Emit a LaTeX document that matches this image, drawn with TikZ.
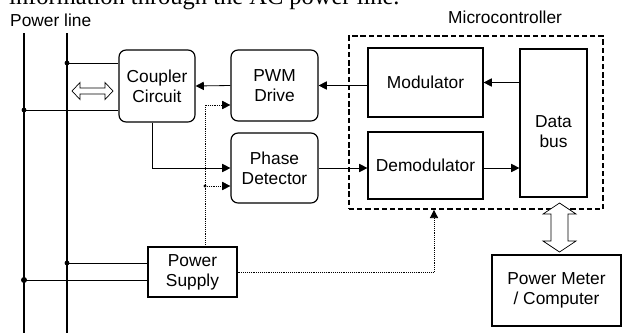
\documentclass[tikz, border=0pt]{standalone}
\usepackage{fontspec}
\setmainfont{Liberation Sans}
\newfontfamily\captionserif{Liberation Serif}
\usetikzlibrary{arrows.meta}

\newcommand{\boxfont}{\fontsize{14.8pt}{17pt}\selectfont}

\tikzset{
    blk/.style = {draw, line width = 1pt, align = center, inner sep = 0pt, font = \boxfont},
    rblk/.style = {blk, rounded corners = 6pt},
    wire/.style = {line width = 0.7pt},
    sig/.style = {wire, -{Triangle[length = 7pt, width = 7pt]}},
    dsig/.style = {line width = 0.6pt, densely dotted, -{Triangle[length = 7pt, width = 7pt]}},
    mains/.style = {line width = 1.6pt},
    hollow/.style = {draw, fill = white, line width = 0.6pt}
}

\begin{document}
\begin{tikzpicture}[x = 0.03cm, y = -0.03cm]
    \useasboundingbox (0, 0) rectangle (622, 333);

    \begin{scope}
        \clip (0, 0) rectangle (622, 333);
        \node[anchor = base west, inner sep = 0pt, font = \captionserif\fontsize{20.9pt}{24pt}\selectfont] (cut) at (9, 4) {information through the AC power line.};
    \end{scope}

    \node[anchor = base west, inner sep = 0pt, font = \boxfont] (pl) at (10, 26) {Power line};
    \node[anchor = base west, inner sep = 0pt, font = \boxfont] (mcutitle) at (448, 23) {Microcontroller};

    \node[draw, dash pattern = on 4.5pt off 2.5pt, line width = 1.5pt, minimum width = 7.62cm, minimum height = 5.19cm] (mcu) at (476, 122.5) {};

    \node[rblk, minimum width = 2.28cm, minimum height = 2.16cm] (coupler) at (157, 86) {Coupler\\Circuit};
    \node[rblk, minimum width = 2.61cm, minimum height = 2.13cm] (pwm) at (274.5, 85.5) {PWM\\Drive};
    \node[rblk, minimum width = 2.61cm, minimum height = 2.10cm] (phase) at (274.5, 168) {Phase\\Detector};
    \node[blk, minimum width = 2.67cm, minimum height = 1.50cm] (ps) at (192.5, 272) {Power\\Supply};
    \node[blk, minimum width = 3.45cm, minimum height = 2.07cm] (mod) at (425.5, 82.5) {Modulator};
    \node[blk, minimum width = 3.45cm, minimum height = 2.01cm] (demod) at (425.5, 165.5) {Demodulator};
    \node[blk, minimum width = 2.01cm, minimum height = 4.44cm, label = {[align = center, font = \boxfont, yshift = -0.27cm]center:Data\\bus}] (bus) at (553.5, 123) {};
    \node[blk, minimum width = 3.87cm, minimum height = 2.13cm] (meter) at (556.5, 290.5) {Power Meter\\/ Computer};

    \coordinate (lTop) at (24, 33);
    \coordinate (lBot) at (24, 333);
    \coordinate (rTop) at (67, 33);
    \coordinate (rBot) at (67, 333);
    \draw[mains] (lTop) -- (lBot);
    \draw[mains] (rTop) -- (rBot);

    \coordinate (rA) at (67, 63);
    \coordinate (lA) at (24, 110);
    \coordinate (rB) at (67, 263);
    \coordinate (lB) at (24, 280);
    \draw[wire] (rA) -- (rA -| coupler.west);
    \draw[wire] (lA) -- (lA -| coupler.west);
    \draw[wire] (rB) -- (rB -| ps.west);
    \draw[wire] (lB) -- (lB -| ps.west);
    \fill (rA) circle (2.4);
    \fill (lA) circle (2.4);
    \fill (rB) circle (2.4);
    \fill (lB) circle (3);

    \draw[hollow] (72, 91) -- (80, 82.5) -- (80, 88) -- (105, 88) -- (105, 82.5) -- (113, 91) -- (105, 99.5) -- (105, 94) -- (80, 94) -- (80, 99.5) -- cycle;

    \draw[sig] (pwm.west) -- (coupler.east);
    \draw[sig] (mod.west |- pwm.east) -- (pwm.east);
    \draw[sig] (bus.west |- mod.east) -- (mod.east);
    \draw[sig] ([xshift = -0.15cm]coupler.south) |- (phase.west);
    \draw[sig] (phase.east) -- (phase.east -| demod.west);
    \draw[sig] (demod.east |- phase.east) -- (phase.east -| bus.west);

    \coordinate (tapP) at (205, 105);
    \coordinate (tapD) at (205, 186);
    \coordinate (mcuIn) at (434, 0);
    \draw[dsig] (ps.north -| tapP) -- (tapP) -- (tapP -| pwm.west);
    \draw[dsig] (tapD) -- (tapD -| phase.west);
    \fill (tapD) circle (1.6);
    \draw[dsig] (ps.east) -| (mcuIn |- mcu.south);

    \draw[hollow] (559.5, 203) -- (576, 214) -- (568, 214) -- (568, 241) -- (576, 241) -- (559.5, 252) -- (543, 241) -- (551, 241) -- (551, 214) -- (543, 214) -- cycle;
\end{tikzpicture}
\end{document}
